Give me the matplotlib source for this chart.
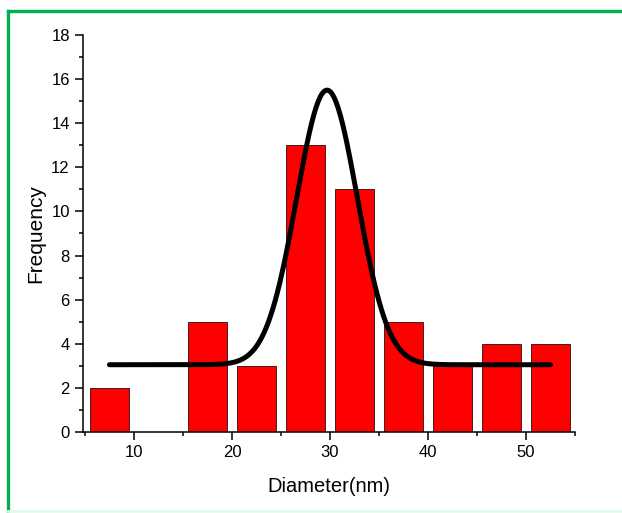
import numpy as np
import matplotlib
matplotlib.use("Agg")
import matplotlib.pyplot as plt
from matplotlib.lines import Line2D
from matplotlib.ticker import MultipleLocator

plt.rcParams["font.family"] = ["Liberation Sans", "DejaVu Sans"]

# histogram of particle diameters (bin centres, nm) and counts
bin_centres = [7.5, 12.5, 17.5, 22.5, 27.5, 32.5, 37.5, 42.5, 47.5, 52.5]
counts = [2, 0, 5, 3, 13, 11, 5, 3, 4, 4]

# Gaussian fit: baseline, amplitude, centre, sigma, and fitted x span
fit_y0 = 3.05
fit_amp = 12.45
fit_xc = 29.7
fit_sigma = 3.1
fit_range = (7.5, 52.5)

fig = plt.figure(figsize=(6.22, 5.13), dpi=100)
ax = fig.add_axes([0.1334, 0.1579, 0.7910, 0.7739])

ax.bar(bin_centres, counts, width=3.9, color="#ff0000",
       edgecolor="#4a1a1a", linewidth=0.7, zorder=2)

xf = np.linspace(fit_range[0], fit_range[1], 400)
yf = fit_y0 + fit_amp * np.exp(-(xf - fit_xc) ** 2 / (2 * fit_sigma ** 2))
ax.plot(xf, yf, color="black", lw=3.6, solid_capstyle="round", zorder=3)

ax.set_xlim(4.8, 55)
ax.set_ylim(0, 18)
ax.xaxis.set_major_locator(MultipleLocator(10))
ax.xaxis.set_minor_locator(MultipleLocator(5))
ax.yaxis.set_major_locator(MultipleLocator(2))
ax.yaxis.set_minor_locator(MultipleLocator(1))
ax.set_xticks([10, 20, 30, 40, 50])

for s in ("top", "right"):
    ax.spines[s].set_visible(False)
for s in ("left", "bottom"):
    ax.spines[s].set_linewidth(1.1)
ax.tick_params(which="major", direction="out", length=5.5, width=1.1,
               labelsize=12, pad=4)
ax.tick_params(which="minor", direction="out", length=3, width=1.1)

ax.set_xlabel("Diameter(nm)", fontsize=14.5, labelpad=12)
ax.set_ylabel("Frequency", fontsize=15, labelpad=4)

# green frame around the whole figure
fig.add_artist(Line2D([0.0129, 1.0], [0.9786, 0.9786], color="#00b050",
                      lw=2.4, transform=fig.transFigure))
fig.add_artist(Line2D([0.0129, 0.0129], [0.0, 0.9786], color="#00b050",
                      lw=2.4, transform=fig.transFigure))
fig.add_artist(Line2D([0.0129, 1.0], [0.004, 0.004], color="#e4fbe9",
                      lw=2, transform=fig.transFigure))

fig.savefig("out.png", dpi=100)
